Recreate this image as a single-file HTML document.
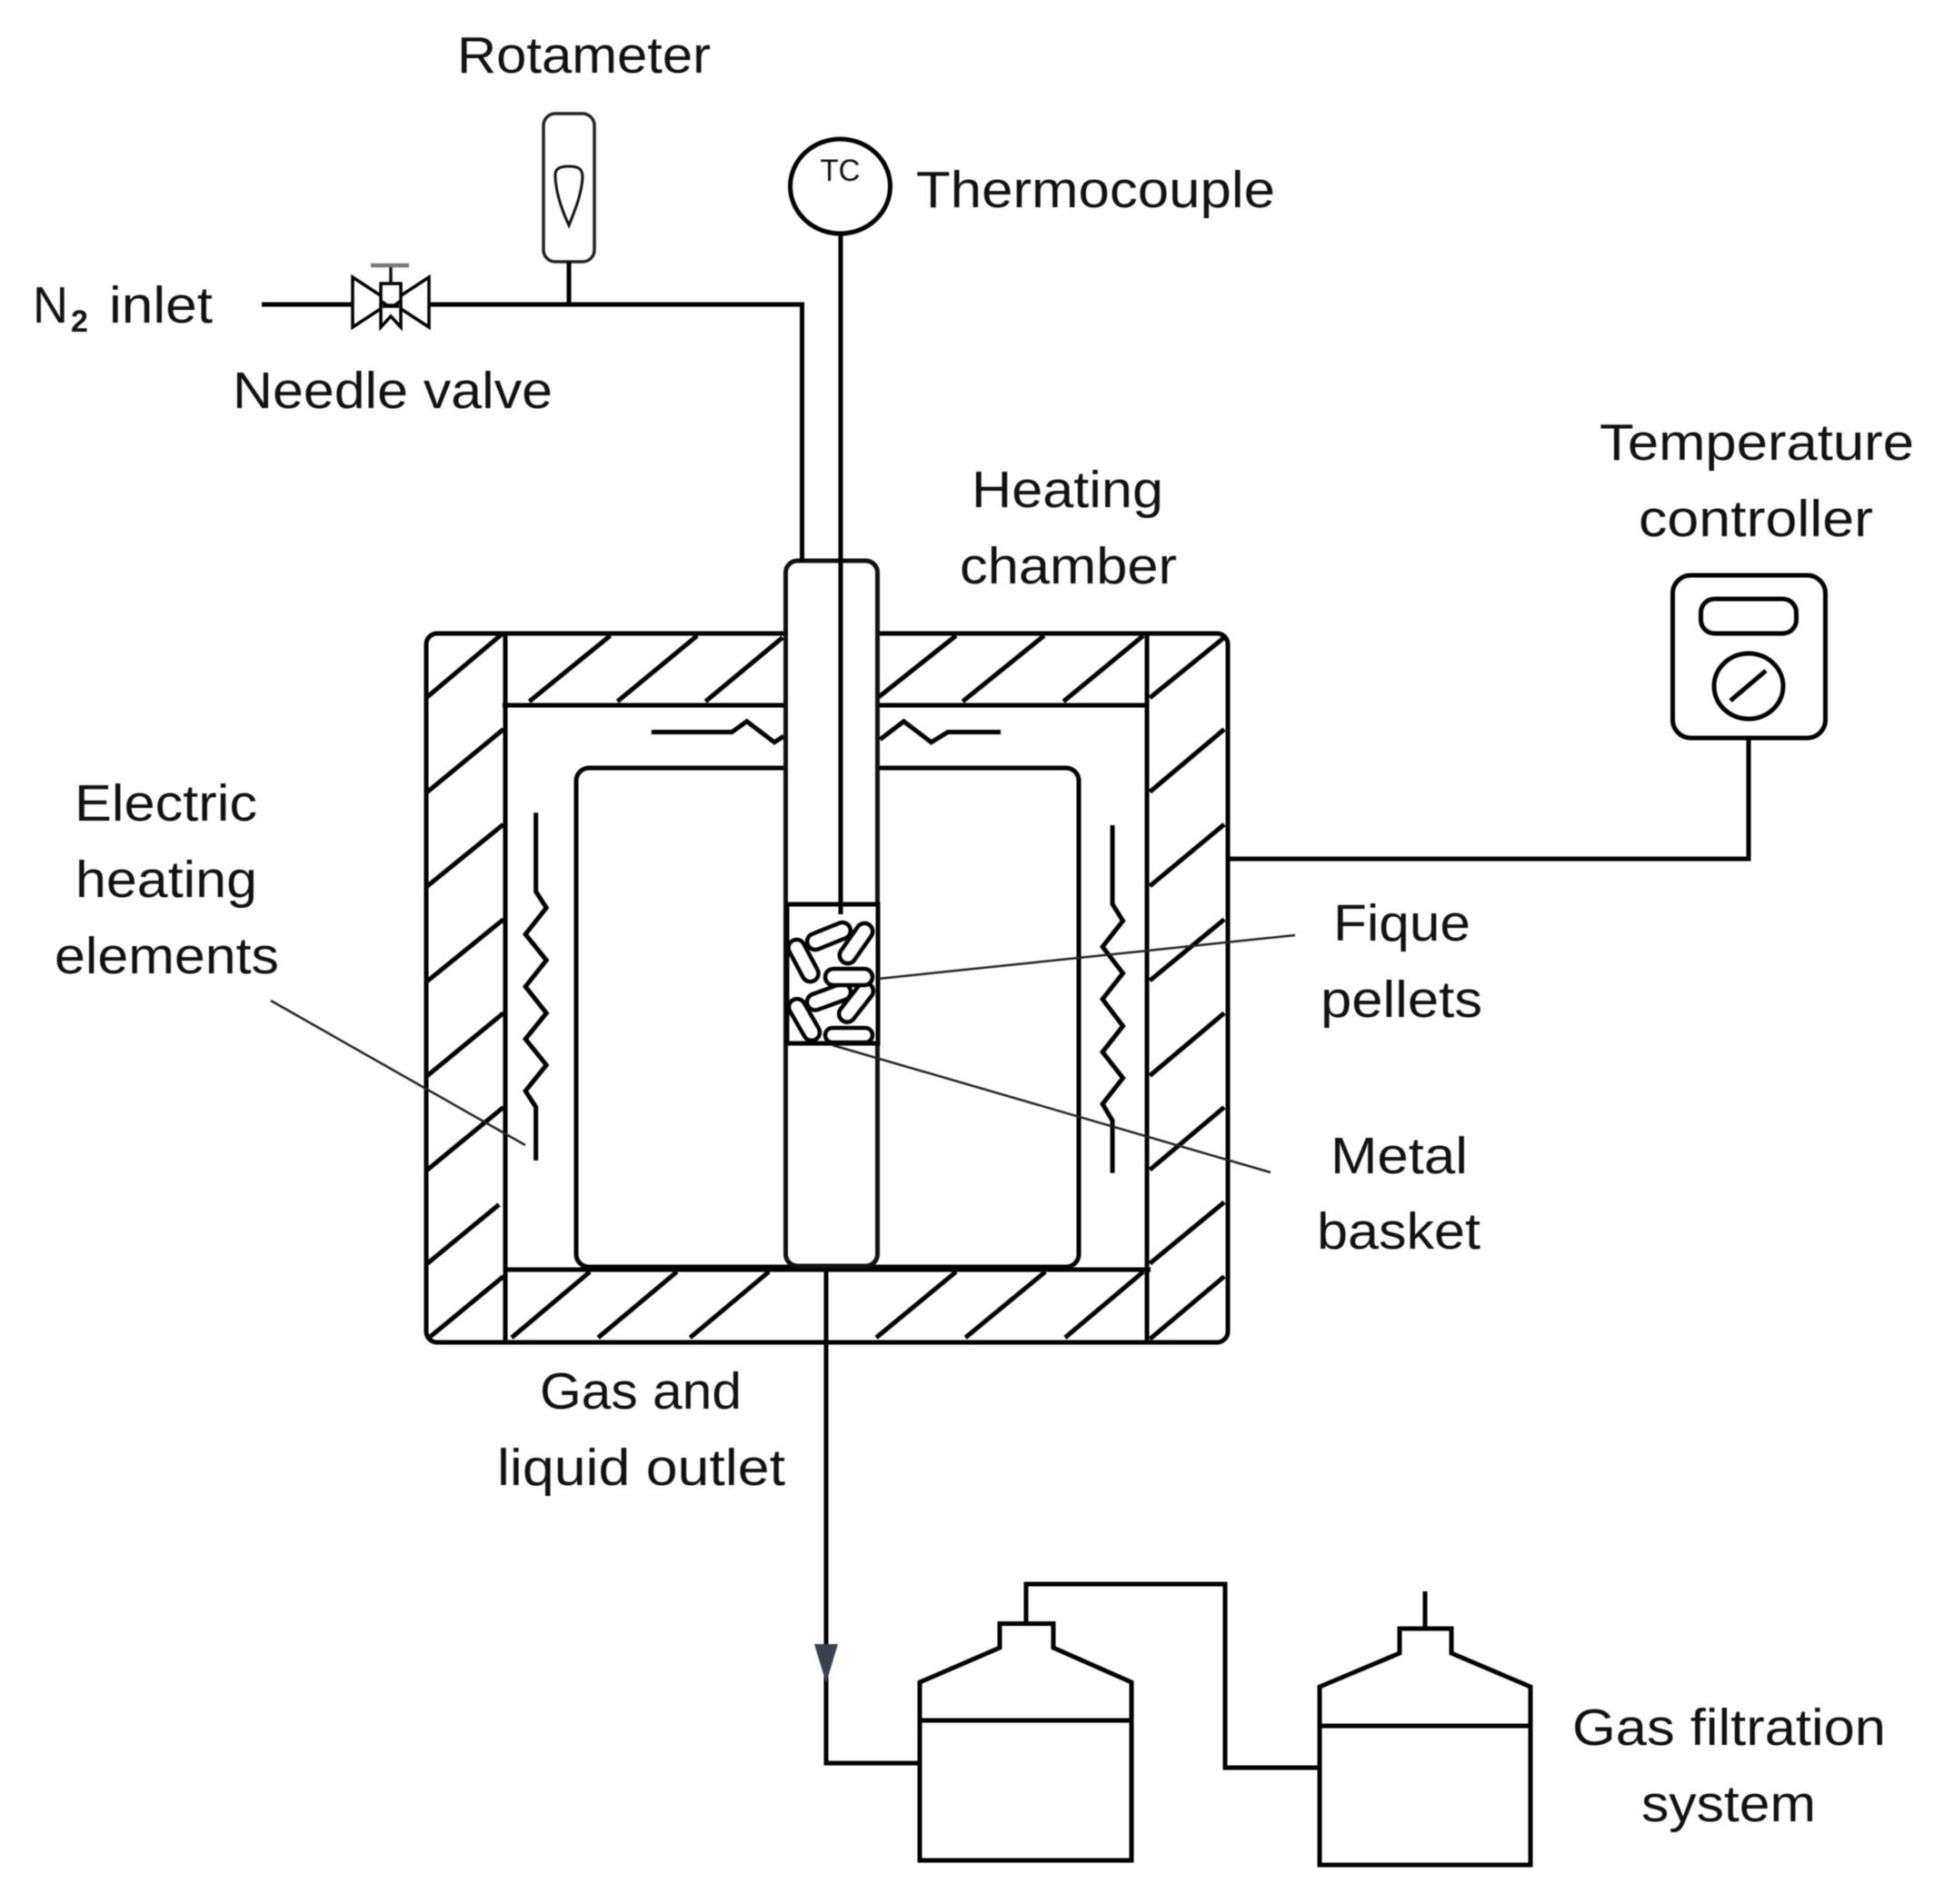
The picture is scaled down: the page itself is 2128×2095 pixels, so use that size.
<!DOCTYPE html>
<html lang="en">
<head>
<meta charset="utf-8">
<title>Pyrolysis apparatus diagram</title>
<style>
html,body{margin:0;padding:0;background:#fff;width:2128px;height:2095px;overflow:hidden}
svg{display:block;filter:blur(.5px)}
text{font-family:"Liberation Sans",Arial,sans-serif;font-size:57px;fill:#111}
.l{fill:none;stroke:#000;stroke-width:5;stroke-linejoin:miter}
.z path{fill:none;stroke:#000;stroke-width:5;vector-effect:non-scaling-stroke}
.p rect{fill:#fff;stroke:#000;stroke-width:4.500}
</style>
</head>
<body>
<svg width="2128" height="2095" viewBox="0 0 2128 2095" xmlns="http://www.w3.org/2000/svg">
<rect width="2128" height="2095" fill="#fff"/>

<!-- Furnace outer shell -->
<rect class="l" x="469" y="697" width="882" height="780" rx="12"/>
<path class="l" d="M556 697V1477M1262 697V1477M553 776H1262M556 1397H1266"/>

<!-- Hatching and heater coils, in a scaled coordinate group -->
<g class="z" transform="matrix(.6059,0,0,.5102,440,680)">
<path d="M50 170L185 35M50 375L188 240M50 578L188 445M50 783L188 650M50 987L188 852M50 1190L188 1055M50 1392L180 1265M50 1555L188 1420"/>
<path d="M235 180L382 38M395 180L540 38M555 180L695 42"/>
<path d="M870 170L1010 38M1022 180L1170 38M1205 180L1350 38"/>
<path d="M1362 172L1497 42M1362 375L1497 240M1362 578L1497 445M1362 782L1497 650M1362 987L1497 852M1362 1190L1497 1055M1362 1392L1497 1260M1362 1555L1497 1420"/>
<path d="M203 1552L345 1410M360 1552L503 1410M527 1552L670 1410M865 1552L1010 1410M1027 1552L1172 1410M1208 1552L1350 1410"/>
<path d="M247 420V590L266 625L228 682L266 738L228 795L266 852L228 908L266 964L228 1020L247 1055V1170"/>
<path d="M1294 447V617L1313 653L1276 709L1313 766L1276 822L1313 880L1276 936L1313 992L1276 1048L1294 1084V1197"/>
<path d="M457 246H603L630 223L680 268L697 255"/>
<path d="M872 262L915 223L965 268L995 246H1091"/>
</g>

<!-- Heating chamber -->
<rect class="l" x="634" y="845" width="553" height="549" rx="14"/>

<!-- Reactor tube -->
<rect x="864.500" y="617" width="101" height="776" rx="13" fill="#fff" stroke="#111" stroke-width="5"/>
<path class="l" d="M925 258V1006"/>
<path class="l" d="M288 335H389M472 335H882.500V617"/>
<path class="l" d="M909 1397V1940H1012" stroke="#1d222b"/>

<!-- Basket -->
<rect x="866" y="995" width="100" height="153" fill="#fff" stroke="#000" stroke-width="5"/>
<path class="l" d="M925 990V1006"/>
<g class="p">
<rect x="887" y="1021" width="50" height="18" rx="9" transform="rotate(-22 912 1030)"/>
<rect x="917" y="1029" width="50" height="18" rx="9" transform="rotate(-55 942 1038)"/>
<rect x="859" y="1048" width="50" height="18" rx="9" transform="rotate(62 884 1057)"/>
<rect x="887" y="1088" width="50" height="18" rx="9" transform="rotate(-20 912 1097)"/>
<rect x="917" y="1094" width="50" height="18" rx="9" transform="rotate(-52 942 1103)"/>
<rect x="860" y="1113" width="50" height="18" rx="9" transform="rotate(60 885 1122)"/>
<rect x="908" y="1066" width="52" height="18" rx="9"/>
<rect x="908" y="1131" width="52" height="16" rx="8"/>
</g>

<!-- Leader lines -->
<g fill="none" stroke="#222" stroke-width="2.500">
<path d="M966 1077L1425 1029"/>
<path d="M916 1150L1398 1290"/>
<path d="M298 1101L578 1260"/>
</g>

<!-- Thermocouple -->
<ellipse cx="924.500" cy="205" rx="55" ry="52" fill="#fff" stroke="#000" stroke-width="5"/>
<text x="924.500" y="199" text-anchor="middle" style="font-size:34px" textLength="44" lengthAdjust="spacingAndGlyphs">TC</text>

<!-- Rotameter -->
<rect x="598" y="125" width="56" height="163" rx="13" fill="#fff" stroke="#222" stroke-width="3.500"/>
<path d="M611 195C610 186 615 183 626 183C637 183 641 186 641 195C640 215 631 235 626 248C620 235 612 215 611 195Z" fill="#fff" stroke="#111" stroke-width="3"/>
<path class="l" d="M626 288V335"/>

<!-- Needle valve -->
<path d="M388 305V360L472 305V360Z" fill="#fff" stroke="#000" stroke-width="3.500"/>
<path d="M419 360V312H441V360L430 348Z" fill="#fff" stroke="#000" stroke-width="3.500"/>
<path d="M419 331L426 336H434L441 331M421 337H439" fill="none" stroke="#000" stroke-width="3.500"/>
<path d="M430 292V312" stroke="#111" stroke-width="3.500"/>
<path d="M408 292H450" stroke="#777" stroke-width="4.500"/>

<!-- Temperature controller -->
<rect x="1840.500" y="633" width="168" height="179" rx="20" fill="#fff" stroke="#000" stroke-width="5"/>
<rect x="1871.500" y="659" width="105" height="38" rx="15" fill="#fff" stroke="#000" stroke-width="5"/>
<ellipse cx="1924" cy="755" rx="38" ry="36" fill="#fff" stroke="#000" stroke-width="5"/>
<path class="l" d="M1904 771L1943 738"/>
<path class="l" d="M1351 945H1924V812"/>

<!-- Arrowhead -->
<path d="M896 1809L922 1809L909 1852Z" fill="#3a4250"/>

<!-- Filtration bottles -->
<path class="l" d="M1012 2047V1851L1100 1813V1786.500H1159V1813L1245 1851V2047ZM1012 1893H1245"/>
<path class="l" d="M1452 2052V1856L1540 1819V1792H1597V1819L1684 1856V2052ZM1452 1899H1684"/>
<path class="l" d="M1129 1787V1743H1348V1945H1452"/>
<path class="l" d="M1568 1751V1792"/>

<!-- Labels -->
<text x="503" y="80" textLength="279" lengthAdjust="spacingAndGlyphs">Rotameter</text>
<text x="1008" y="228" textLength="395" lengthAdjust="spacingAndGlyphs">Thermocouple</text>
<text x="36" y="355" textLength="39" lengthAdjust="spacingAndGlyphs">N</text>
<text x="78" y="365" style="font-size:34px;font-weight:bold">2</text>
<text x="120" y="355" textLength="114" lengthAdjust="spacingAndGlyphs">inlet</text>
<text x="256" y="449" textLength="352" lengthAdjust="spacingAndGlyphs">Needle valve</text>
<text x="1069" y="558" textLength="211" lengthAdjust="spacingAndGlyphs">Heating</text>
<text x="1056" y="642" textLength="239" lengthAdjust="spacingAndGlyphs">chamber</text>
<text x="1760" y="506" textLength="346" lengthAdjust="spacingAndGlyphs">Temperature</text>
<text x="1803" y="590" textLength="258" lengthAdjust="spacingAndGlyphs">controller</text>
<text x="82" y="903" textLength="201" lengthAdjust="spacingAndGlyphs">Electric</text>
<text x="83" y="987" textLength="200" lengthAdjust="spacingAndGlyphs">heating</text>
<text x="60" y="1071" textLength="247" lengthAdjust="spacingAndGlyphs">elements</text>
<text x="1467" y="1035" textLength="151" lengthAdjust="spacingAndGlyphs">Fique</text>
<text x="1453" y="1119" textLength="178" lengthAdjust="spacingAndGlyphs">pellets</text>
<text x="1464" y="1291" textLength="151" lengthAdjust="spacingAndGlyphs">Metal</text>
<text x="1449" y="1374" textLength="180" lengthAdjust="spacingAndGlyphs">basket</text>
<text x="594" y="1550" textLength="222" lengthAdjust="spacingAndGlyphs">Gas and</text>
<text x="547" y="1634" textLength="317" lengthAdjust="spacingAndGlyphs">liquid outlet</text>
<text x="1730" y="1920" textLength="345" lengthAdjust="spacingAndGlyphs">Gas filtration</text>
<text x="1806" y="2004" textLength="192" lengthAdjust="spacingAndGlyphs">system</text>
</svg>
</body>
</html>
